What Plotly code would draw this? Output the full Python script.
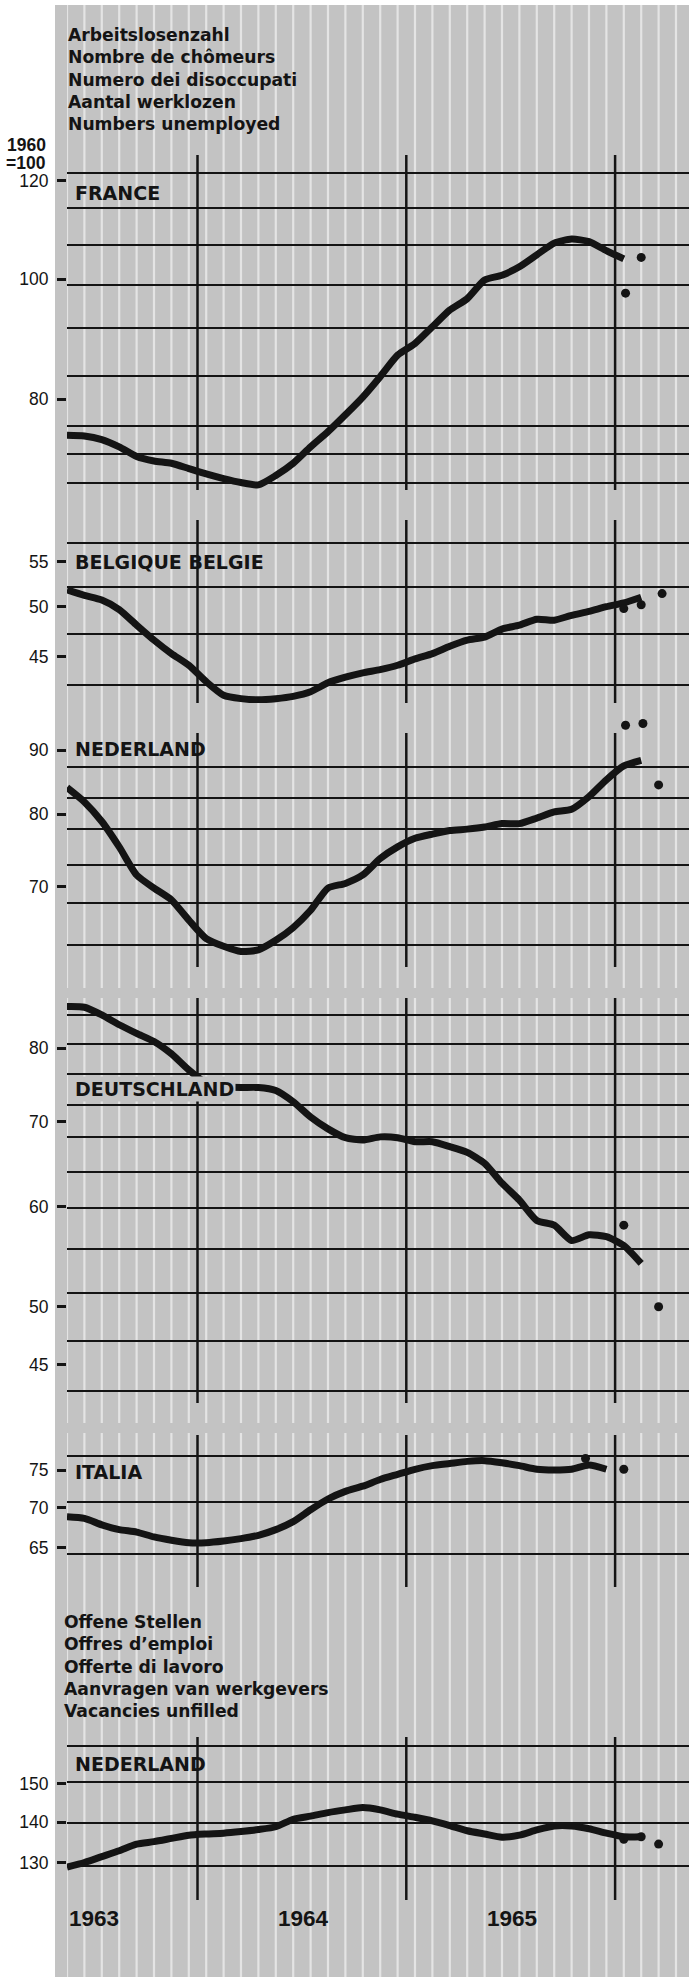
import math
import plotly.graph_objects as go

W, H = 689, 1982

# ---------------- data (index 1960 = 100, monthly from Jan 1963) ----------------
france = [74.8, 74.7, 74.2, 73.2, 71.9, 71.3, 71.0, 70.3, 69.6, 69.0, 68.5, 68.2, 69.4,
          71.0, 73.2, 75.3, 77.7, 80.3, 83.4, 86.8, 88.7, 91.5, 94.4, 96.4, 99.8, 100.7,
          102.3, 104.6, 106.9, 107.7, 107.2, 105.4, 103.8]
france_dots_x = [32.1, 33.0]
france_dots_y = [97.4, 104.1]

belgique = [51.8, 51.2, 50.7, 49.7, 48.1, 46.6, 45.3, 44.2, 42.7, 41.5, 41.2, 41.1, 41.2,
            41.4, 41.8, 42.6, 43.1, 43.5, 43.8, 44.2, 44.8, 45.3, 46.0, 46.6, 46.9, 47.7,
            48.1, 48.7, 48.6, 49.1, 49.5, 50.0, 50.4, 51.0]
belgique_dots_x = [32.0, 33.0, 34.2]
belgique_dots_y = [49.8, 50.2, 51.4]

nederland = [84.0, 81.8, 78.9, 75.3, 71.5, 69.8, 68.3, 65.8, 63.6, 62.7, 62.1, 62.3, 63.4,
             64.9, 67.0, 69.8, 70.4, 71.5, 73.7, 75.3, 76.5, 77.1, 77.6, 77.8, 78.1, 78.6,
             78.6, 79.4, 80.3, 80.7, 82.6, 85.2, 87.4, 88.3]
nederland_dots_x = [32.1, 33.1, 34.0]
nederland_dots_y = [94.2, 94.5, 84.4]

deutschland = [86.3, 86.2, 85.0, 83.5, 82.2, 81.0, 79.2, 76.9, 75.1, 74.6, 74.5, 74.5, 74.1,
               72.6, 70.6, 69.1, 68.0, 67.7, 68.1, 68.0, 67.5, 67.5, 66.9, 66.2, 64.9, 62.6,
               60.7, 58.5, 58.0, 56.4, 57.0, 56.8, 55.9, 54.1]
deutschland_dots_x = [32.0, 34.0]
deutschland_dots_y = [58.0, 50.0]

italia = [68.8, 68.6, 67.8, 67.2, 66.9, 66.3, 65.9, 65.6, 65.6, 65.8, 66.1, 66.5, 67.2,
          68.2, 69.7, 71.1, 72.1, 72.8, 73.7, 74.4, 75.1, 75.6, 75.9, 76.2, 76.3, 76.0,
          75.6, 75.1, 75.0, 75.1, 75.7, 75.1]
italia_dots_x = [29.8, 32.0]
italia_dots_y = [76.6, 75.1]

vacancies_nl = [129.0, 130.1, 131.5, 132.9, 134.5, 135.1, 135.9, 136.7, 137.0, 137.2, 137.6,
                138.1, 138.8, 140.7, 141.5, 142.4, 143.1, 143.7, 143.1, 142.0, 141.2, 140.3,
                139.1, 137.8, 137.0, 136.2, 136.7, 138.0, 139.0, 139.0, 138.3, 137.2, 136.3,
                136.3]
vacancies_dots_x = [32.0, 33.0, 34.0]
vacancies_dots_y = [135.7, 136.3, 134.5]

# tick labels and grid values per panel
france_ticks = [80, 100, 120]
belgique_ticks = [45, 50, 55]
nederland_ticks = [70, 80, 90]
deutschland_ticks = [45, 50, 60, 70, 80]
italia_ticks = [65, 70, 75]
vacancies_ticks = [130, 140, 150]

france_grid = [121.8, 114.1, 106.5, 98.9, 91.3, 83.5, 76.1, 72.2, 68.4]
belgique_grid = [57.2, 52.1, 47.2, 42.4]
nederland_grid = [87.3, 82.4, 77.8, 72.8, 67.9, 62.9]
deutschland_grid = [85.0, 80.7, 76.4, 72.2, 68.1, 63.9, 59.8, 55.5, 51.3, 47.0, 42.9]
italia_grid = [77.0, 70.7, 64.3]
vacancies_grid = [160.7, 150.6, 139.8, 129.3]

year_labels = ["1963", "1964", "1965"]
year_label_months = [0, 12, 24]
year_line_months = [7.5, 19.5, 31.5]

title_top = ["Arbeitslosenzahl", "Nombre de chômeurs", "Numero dei disoccupati",
             "Aantal werklozen", "Numbers unemployed"]
title_mid = ["Offene Stellen", "Offres d’emploi", "Offerte di lavoro",
             "Aanvragen van werkgevers", "Vacancies unfilled"]

# ---------------- layout geometry ----------------
X0 = 67          # left of plotting area (px)
PX_PER_MONTH = 17.4
INK = "#141414"
BG = "#c3c3c3"
STRIPE = "#e4e4e4"
BOLD = "DejaVu Sans, Liberation Sans, sans-serif"
ARIAL = "Liberation Sans, Arial, sans-serif"


def fx(px):
    return px / W


def fy(py):
    return 1 - py / H


def log_range(top_px, bot_px, ref_val, ref_px, k):
    lr = math.log10(ref_val)
    return [lr + (ref_px - bot_px) / k / math.log(10),
            lr + (ref_px - top_px) / k / math.log(10)]


# top/bot: axis domain in px; vtop: top of the year lines (px)
panels = [
    dict(label="FRANCE", vals=france, dx=france_dots_x, dy=france_dots_y,
         ticks=france_ticks, grid=france_grid, top=155, vtop=155, bot=490,
         ref=(100, 279), k=538, ly=193.5),
    dict(label="BELGIQUE BELGIE", vals=belgique, dx=belgique_dots_x, dy=belgique_dots_y,
         ticks=belgique_ticks, grid=belgique_grid, top=520, vtop=520, bot=703,
         ref=(50, 606.7), k=475, ly=561.5),
    dict(label="NEDERLAND", vals=nederland, dx=nederland_dots_x, dy=nederland_dots_y,
         ticks=nederland_ticks, grid=nederland_grid, top=710, vtop=733, bot=967,
         ref=(80, 814), k=543, ly=748.5),
    dict(label="DEUTSCHLAND", vals=deutschland, dx=deutschland_dots_x, dy=deutschland_dots_y,
         ticks=deutschland_ticks, grid=deutschland_grid, top=998, vtop=998, bot=1403,
         ref=(80, 1048.3), k=550, ly=1089),
    dict(label="ITALIA", vals=italia, dx=italia_dots_x, dy=italia_dots_y,
         ticks=italia_ticks, grid=italia_grid, top=1435, vtop=1435, bot=1587,
         ref=(75, 1470), k=543, ly=1471.5),
    dict(label="NEDERLAND", vals=vacancies_nl, dx=vacancies_dots_x, dy=vacancies_dots_y,
         ticks=vacancies_ticks, grid=vacancies_grid, top=1737, vtop=1737, bot=1900,
         ref=(140, 1822), k=552, ly=1763.5),
]

fig = go.Figure()
shapes = []
annotations = []

# gray background and white monthly stripes
shapes.append(dict(type="rect", xref="paper", yref="paper", x0=fx(55), x1=1,
                   y0=fy(1977), y1=fy(5), fillcolor=BG, line=dict(width=0), layer="below"))
for m in range(0, 36):
    for (a, b) in [(5, 988), (998, 1423), (1433, 1977)]:
        shapes.append(dict(type="line", xref="x", yref="paper", x0=m, x1=m,
                           y0=fy(b), y1=fy(a), line=dict(color=STRIPE, width=2.2), layer="below"))

layout_axes = {}
for i, p in enumerate(panels):
    yname = "y" if i == 0 else f"y{i + 1}"
    akey = "yaxis" if i == 0 else f"yaxis{i + 1}"
    months = list(range(len(p["vals"])))
    fig.add_trace(go.Scatter(x=months, y=p["vals"], xaxis="x", yaxis=yname, mode="lines",
                             line=dict(color=INK, width=7, shape="spline", smoothing=0.6),
                             hoverinfo="skip"))
    fig.add_trace(go.Scatter(x=p["dx"], y=p["dy"], xaxis="x", yaxis=yname, mode="markers",
                             marker=dict(color=INK, size=9), cliponaxis=False, hoverinfo="skip"))
    layout_axes[akey] = dict(
        type="log", anchor="x", domain=[fy(p["bot"]), fy(p["top"])],
        range=log_range(p["top"], p["bot"], p["ref"][0], p["ref"][1], p["k"]),
        tickmode="array", tickvals=p["ticks"], ticktext=[str(t) for t in p["ticks"]],
        ticks="outside", ticklen=9, tickwidth=2.5, tickcolor=INK, ticklabelstandoff=5,
        tickfont=dict(family=ARIAL, size=17.5, color=INK),
        showgrid=False, zeroline=False, showline=False, automargin=False, fixedrange=True,
        minor=dict(tickmode="array", tickvals=p["grid"], showgrid=True,
                   gridcolor=INK, gridwidth=2, ticks=""),
    )
    vfrac = (p["bot"] - p["vtop"]) / (p["bot"] - p["top"])
    for xm in year_line_months:
        shapes.append(dict(type="line", xref="x", yref=f"{yname} domain", x0=xm, x1=xm,
                           y0=0, y1=vfrac, line=dict(color=INK, width=2.5), layer="below"))
    ann = dict(text=f"<b>{p['label']}</b>", xref="paper", yref="paper", x=fx(73), y=fy(p["ly"]),
               xanchor="left", yanchor="middle", showarrow=False,
               font=dict(family=BOLD, size=19, color=INK))
    if p["label"] == "DEUTSCHLAND":
        ann.update(bgcolor=BG, borderpad=1)
    annotations.append(ann)

# titles
annotations.append(dict(text="<br>".join(f"<b>{t}</b>" for t in title_top), xref="paper", yref="paper",
                        x=fx(66), y=fy(80), xanchor="left", yanchor="middle", align="left",
                        showarrow=False, font=dict(family=BOLD, size=17.2, color=INK)))
annotations.append(dict(text="<br>".join(f"<b>{t}</b>" for t in title_mid), xref="paper", yref="paper",
                        x=fx(62), y=fy(1666), xanchor="left", yanchor="middle", align="left",
                        showarrow=False, font=dict(family=BOLD, size=17.2, color=INK)))
annotations.append(dict(text="<b>1960</b>", xref="paper", yref="paper", x=fx(48), y=fy(145),
                        xanchor="right", yanchor="middle", showarrow=False,
                        font=dict(family=ARIAL, size=17.5, color=INK)))
annotations.append(dict(text="<b>=100</b>", xref="paper", yref="paper", x=fx(48), y=fy(163),
                        xanchor="right", yanchor="middle", showarrow=False,
                        font=dict(family=ARIAL, size=17.5, color=INK)))
for lab, m in zip(year_labels, year_label_months):
    annotations.append(dict(text=f"<b>{lab}</b>", xref="x", yref="paper", x=m, y=fy(1918),
                            xanchor="left", yanchor="middle", showarrow=False,
                            font=dict(family=ARIAL, size=22.5, color=INK)))

fig.update_layout(
    width=W, height=H, margin=dict(l=0, r=0, t=0, b=0), template="none",
    paper_bgcolor="white", plot_bgcolor="rgba(0,0,0,0)", showlegend=False,
    xaxis=dict(domain=[fx(X0), 1], range=[0, (W - X0) / PX_PER_MONTH], visible=False,
               fixedrange=True, anchor="y"),
    shapes=shapes, annotations=annotations, **layout_axes,
)

fig.write_html("out.html", config={"displayModeBar": False},
               post_script="document.body.style.margin='0px';")
